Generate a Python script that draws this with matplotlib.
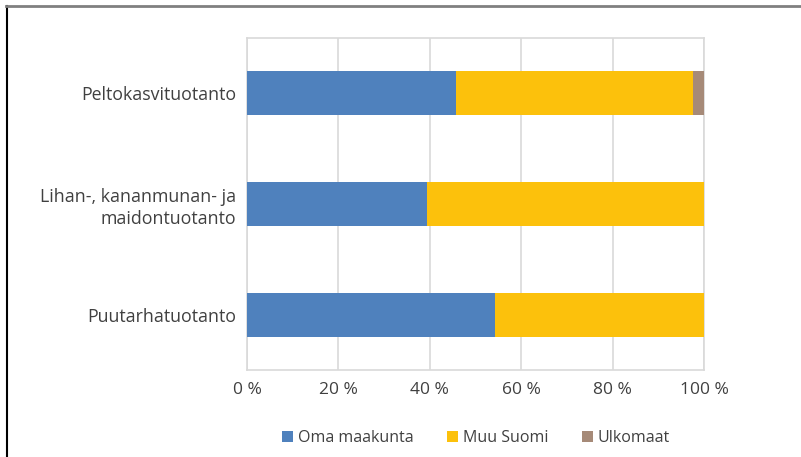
import matplotlib.pyplot as plt
from matplotlib.patches import Patch
from matplotlib.lines import Line2D

plt.rcParams['font.family'] = ['Open Sans', 'DejaVu Sans']

categories = ['Puutarhatuotanto', 'Lihan-, kananmunan- ja\nmaidontuotanto', 'Peltokasvituotanto']
oma = [54.3, 39.4, 45.7]
muu = [45.7, 60.6, 51.9]
ulko = [0.0, 0.0, 2.4]
series = ['Oma maakunta', 'Muu Suomi', 'Ulkomaat']
colors = ['#4f81bd', '#fcc10c', '#a68a78']
ticks = [0, 20, 40, 60, 80, 100]

fig = plt.figure(figsize=(8.01, 4.57), dpi=100)
ax = fig.add_axes([247 / 801, 87 / 457, 457 / 801, 332 / 457])

y = range(len(categories))
left = [0] * len(categories)
for vals, c in zip([oma, muu, ulko], colors):
    ax.barh(y, vals, left=left, height=0.4, color=c, zorder=3)
    left = [l + v for l, v in zip(left, vals)]

ax.set_xlim(0, 100)
ax.set_ylim(-0.5, 2.5)
ax.set_xticks(ticks)
ax.set_xticklabels([f'{t} %' for t in ticks], fontsize=12.5, color='#404040')
ax.set_yticks(list(y))
ax.set_yticklabels(categories, fontsize=12.8, color='#404040', linespacing=1.3)
ax.tick_params(length=0, pad=9)
ax.tick_params(axis='y', pad=8)
ax.grid(axis='x', color='#d9d9d9', linewidth=1.2, zorder=0)
for s in ax.spines.values():
    s.set_color('#d9d9d9')
    s.set_linewidth(1.2)

handles = [Patch(facecolor=c, label=s) for s, c in zip(series, colors)]
fig.legend(handles=handles, loc='center', bbox_to_anchor=(476 / 801, 1 - 438 / 457),
           ncol=3, frameon=False, fontsize=11.5, handlelength=0.7, handleheight=0.7,
           handletextpad=0.3, columnspacing=2.1, labelcolor='#404040')

# outer frame (left and top edges)
fig.add_artist(Line2D([6.5 / 801, 6.5 / 801], [0, 1 - 6 / 457], color='black', linewidth=1.5,
                      transform=fig.transFigure))
fig.add_artist(Line2D([6 / 801, 1], [1 - 6 / 457, 1 - 6 / 457], color='#808080', linewidth=2,
                      transform=fig.transFigure))

fig.savefig('out.png', dpi=100)
